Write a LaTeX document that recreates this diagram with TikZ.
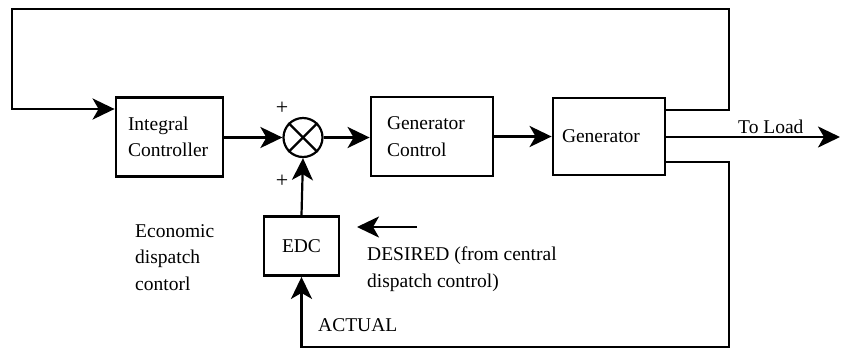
\documentclass[tikz,border=0pt]{standalone}
\usepackage{fontspec}
\setmainfont{Liberation Serif}
\usetikzlibrary{arrows.meta}
\begin{document}
\begin{tikzpicture}[x=1pt,y=-1pt,
  txt/.style={font=\fontsize{19.5}{26.5}\selectfont},
  blk/.style={txt,draw,line width=2.8pt,align=left,inner ysep=0pt},
  conn/.style={line width=2.8pt},
  tip/.style={-{Stealth[length=22pt,width=21pt,inset=6pt]}},
  arr/.style={conn,tip},
  lbl/.style={txt,align=left,inner sep=0pt},
  plus/.style={font=\fontsize{22}{22}\selectfont,inner sep=0pt}]
\useasboundingbox (0,0) rectangle (841,349);
% blocks
\node[blk,minimum height=79pt,inner xsep=12pt,text width=83pt] (ic) at (169.5,137) {Integral\\Controller};
\node[draw,circle,line width=2.2pt,minimum size=39pt,inner sep=0pt] (sum) at (303,137.5) {};
\draw[line width=2.2pt] (sum.north west) -- (sum.south east);
\draw[line width=2.2pt] (sum.north east) -- (sum.south west);
\node[blk,minimum height=79pt,inner xsep=16pt,text width=90pt] (gc) at (432,136.5) {Generator\\Control};
\node[blk,minimum height=77pt,inner xsep=9pt,text width=94pt] (gen) at (609,136.5) {Generator};
\node[blk,align=center,minimum width=75pt,minimum height=59pt,inner xsep=4pt] (edc) at (301.5,246) {EDC};
% coordinates
\coordinate (tr) at (729,9);
\coordinate (tl) at (12,9);
\coordinate (bl) at (12,109);
\coordinate (br) at (729,347);
\coordinate (bb) at (301.5,347);
\coordinate (load) at (840,137);
\coordinate (ds) at (417,227);
\coordinate (de) at (357,227);
% connectors
\draw[arr] ([yshift=26.5pt]gen.east) -| (tr) -- (tl) -- (bl) -- (bl -| ic.west);
\draw[arr] (ic.east |- sum.west) -- (sum.west);
\draw[arr] (sum.east) -- (sum.east -| gc.west);
\draw[arr] (gc.east) -- (gen.west);
\draw[arr] (gen.east |- load) -- (load);
\draw[arr] ([yshift=-25.5pt]gen.east) -| (br) -- (bb) -- (edc.south);
\draw[line width=2.2pt,tip] (edc.north) -- (sum.south);
\draw[arr] (ds) -- (de);
% labels
\node[plus] (p1) at (282,108.5) {+};
\node[plus] (p2) at (282,181) {+};
\node[lbl,anchor=base west] (tl1) at (738,133) {To Load};
\node[lbl,anchor=north west] (eco) at (135,224) {Economic\\dispatch\\contorl};
\node[lbl,anchor=north west] (des) at (367,247) {DESIRED (from central\\dispatch control)};
\node[lbl,anchor=north west] (act) at (318,318) {ACTUAL};
\end{tikzpicture}
\end{document}
